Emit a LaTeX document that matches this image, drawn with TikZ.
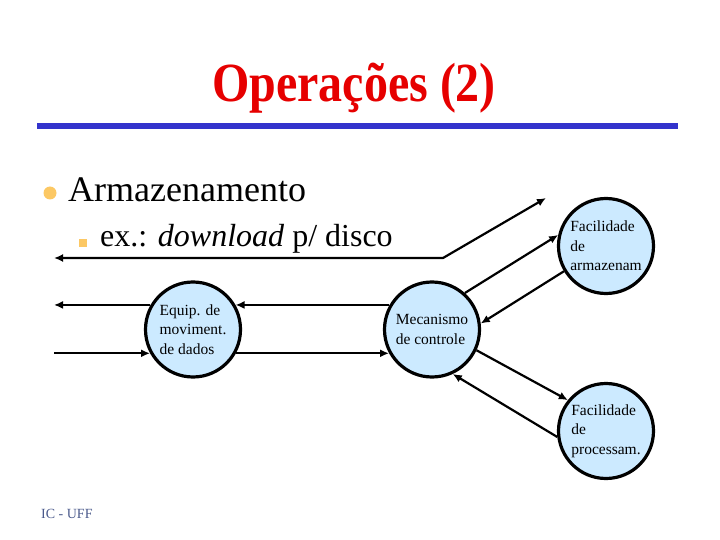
\documentclass[tikz,border=0pt]{standalone}
\usepackage{fontspec}
\setmainfont{Liberation Serif}
\usetikzlibrary{arrows.meta}
\definecolor{titlered}{RGB}{230,0,0}
\definecolor{rulblue}{RGB}{51,51,204}
\definecolor{bulletorange}{RGB}{252,200,100}
\definecolor{circfill}{RGB}{204,234,255}
\definecolor{footblue}{RGB}{75,90,140}
\tikzset{
  proc/.style={circle, draw=black, line width=3.2pt, fill=circfill, minimum size=95pt,
    inner sep=0pt, align=left, font=\fontsize{15.5}{19.5}\selectfont},
  conn/.style={line width=2.2pt, -{Latex[length=9pt,width=8pt]}},
  bothconn/.style={line width=2.2pt, {Latex[length=9pt,width=8pt]}-{Latex[length=9pt,width=8pt]}}
}
\begin{document}
\begin{tikzpicture}[x=1pt,y=-1pt]
\useasboundingbox (0,0) rectangle (720,540);
% title
\node[anchor=base, text=titlered, font=\fontsize{48}{48}\selectfont\bfseries, yscale=1.15] (title) at (354,102) {Operações (2)};
\fill[rulblue] (37,123) rectangle (678,129);
% bullets
\fill[bulletorange] (50,193) circle (6.5);
\node[anchor=base west, font=\fontsize{36}{36}\selectfont, inner sep=0pt] (arm) at (68,202) {Armazenamento};
\fill[bulletorange] (79,239) rectangle (87,247);
\node[anchor=base west, font=\fontsize{32}{32}\selectfont, inner sep=0pt] (ex) at (100,247) {ex.: \textit{download} p/ disco};
% circles
\node[proc] (equip) at (193,329.5) {Equip. de\\moviment.\\de dados};
\node[proc] (mec) at (432,329.5) {Mecanismo\\de controle};
\node[proc] (farm) at (606,246) {Facilidade\\de\\armazenam};
\node[proc] (fproc) at (606,431) {Facilidade\\de\\processam.};
% free ends
\coordinate (dl) at (54,258);
\coordinate (bend) at (443,258);
\coordinate (du) at (546,198);
\coordinate (l1) at (54,305);
\coordinate (l2) at (54,353);
% connectors
\draw[bothconn] (du) -- (bend) -- (dl);
\draw[conn] (equip.150) -- (equip.150 -| l1);
\draw[conn] (mec.150) -- (equip.30);
\draw[conn] (equip.209 -| l2) -- (equip.209);
\draw[conn] (equip.-29) -- (mec.209);
\draw[conn] (mec.48) -- (farm.167);
\draw[conn] (farm.211) -- (mec.7);
\draw[conn] (mec.-25) -- (fproc.141);
\draw[conn] (fproc.187) -- (mec.-65);
% footer
\node[anchor=base west, text=footblue, font=\fontsize{14}{14}\selectfont, inner sep=0pt] (foot) at (41,518) {IC - UFF};
\end{tikzpicture}
\end{document}
